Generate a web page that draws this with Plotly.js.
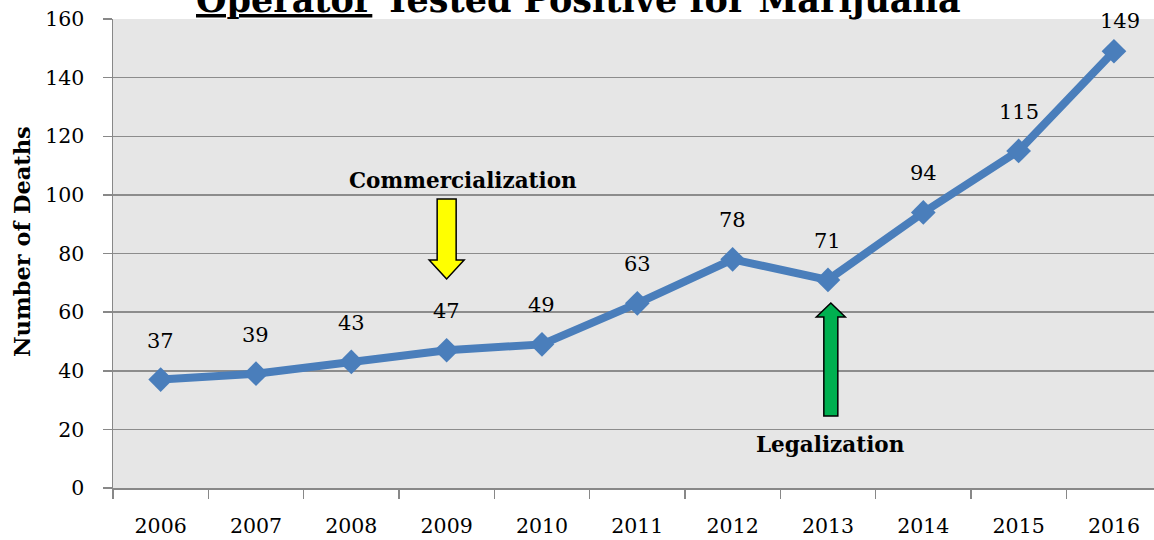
<!DOCTYPE html>
<html>
<head>
<meta charset="utf-8">
<script src="https://cdn.plot.ly/plotly-3.0.1.min.js"></script>
<style>
  html, body { margin: 0; padding: 0; background: #fff; }
  #chart { width: 1154px; height: 540px; }
</style>
</head>
<body>
<div id="chart"></div>
<script>
// yearly counts
const years = ['2006', '2007', '2008', '2009', '2010', '2011', '2012', '2013', '2014', '2015', '2016'];
const deaths = [37, 39, 43, 47, 49, 63, 78, 71, 94, 115, 149];
const yTicks = [0, 20, 40, 60, 80, 100, 120, 140, 160];

const serif = 'DejaVu Serif, Liberation Serif, serif';
const blue = '#4a7ebb';

const trace = {
  type: 'scatter',
  mode: 'lines+markers',
  x: years,
  y: deaths,
  line: { color: blue, width: 8 },
  marker: { symbol: 'diamond', size: 19, color: blue },
  hoverinfo: 'x+y',
  showlegend: false
};

// value labels above each point (category index as x)
const last = years.length - 1;
const valueLabels = deaths.map((d, i) => ({
  x: i,
  y: d,
  text: String(d),
  showarrow: false,
  yshift: i === last ? 30 : 39,
  xshift: i === last ? 6 : 0,
  font: { family: serif, size: 21, color: '#000' }
}));

const notes = [
  {
    x: 3.17, y: 105, text: '<b>Commercialization</b>', showarrow: false,
    font: { family: serif, size: 21.5, color: '#000' }
  },
  {
    x: 7.03, y: 14.7, text: '<b>Legalization</b>', showarrow: false,
    font: { family: serif, size: 21.5, color: '#000' }
  },
  {
    // chart title, pushed partly above the page like the original
    xref: 'paper', yref: 'paper', x: 0.447, xanchor: 'center', y: 1, yanchor: 'bottom', yshift: -3,
    text: '<b><u>Operator</u> Tested Positive for Marijuana</b>', showarrow: false,
    font: { family: serif, size: 35, color: '#000' }
  },
  {
    xref: 'paper', yref: 'paper', x: -0.0874, xanchor: 'center', y: 0.5245, yanchor: 'middle',
    textangle: -90, text: '<b>Number of Deaths</b>', showarrow: false,
    font: { family: serif, size: 22.5, color: '#000' }
  }
];

// block arrows, anchored on the category axis, drawn in pixels
const arrows = [
  {
    type: 'path', xref: 'x', yref: 'y',
    xsizemode: 'pixel', ysizemode: 'pixel', xanchor: 3, yanchor: 71.3,
    path: 'M 0 0 L -17.5 19 L -9.5 19 L -9.5 80 L 9.5 80 L 9.5 19 L 17.5 19 Z',
    fillcolor: '#ffff00', line: { color: '#000', width: 1.5 }
  },
  {
    type: 'path', xref: 'x', yref: 'y',
    xsizemode: 'pixel', ysizemode: 'pixel', xanchor: 7.03, yanchor: 63.1,
    path: 'M 0 0 L -14.5 -14 L -7 -14 L -7 -113 L 7 -113 L 7 -14 L 14.5 -14 Z',
    fillcolor: '#00b050', line: { color: '#000', width: 1.5 }
  }
];

const layout = {
  width: 1154,
  height: 540,
  margin: { l: 113, r: 0, t: 19, b: 52 },
  paper_bgcolor: '#ffffff',
  plot_bgcolor: '#e6e6e6',
  font: { family: serif, color: '#000' },
  xaxis: {
    type: 'category',
    range: [-0.5, 10.42],
    tickson: 'boundaries',
    ticks: 'outside',
    ticklen: 9,
    tickwidth: 1.5,
    tickcolor: '#888',
    showgrid: false,
    showline: true,
    linecolor: '#888',
    linewidth: 2,
    ticklabelstandoff: 18,
    tickfont: { family: serif, size: 20.5, color: '#000' },
    fixedrange: true
  },
  yaxis: {
    range: [0, 160],
    tickvals: yTicks,
    ticks: 'outside',
    ticklen: 9,
    tickwidth: 1.5,
    tickcolor: '#888',
    showgrid: true,
    gridcolor: '#8c8c8c',
    gridwidth: 1.5,
    zeroline: false,
    showline: true,
    linecolor: '#888',
    linewidth: 1.5,
    ticklabelstandoff: 14,
    tickfont: { family: serif, size: 20.5, color: '#000' },
    fixedrange: true
  },
  annotations: valueLabels.concat(notes),
  shapes: arrows
};

Plotly.newPlot('chart', [trace], layout, { displayModeBar: false, staticPlot: true });
</script>
</body>
</html>
